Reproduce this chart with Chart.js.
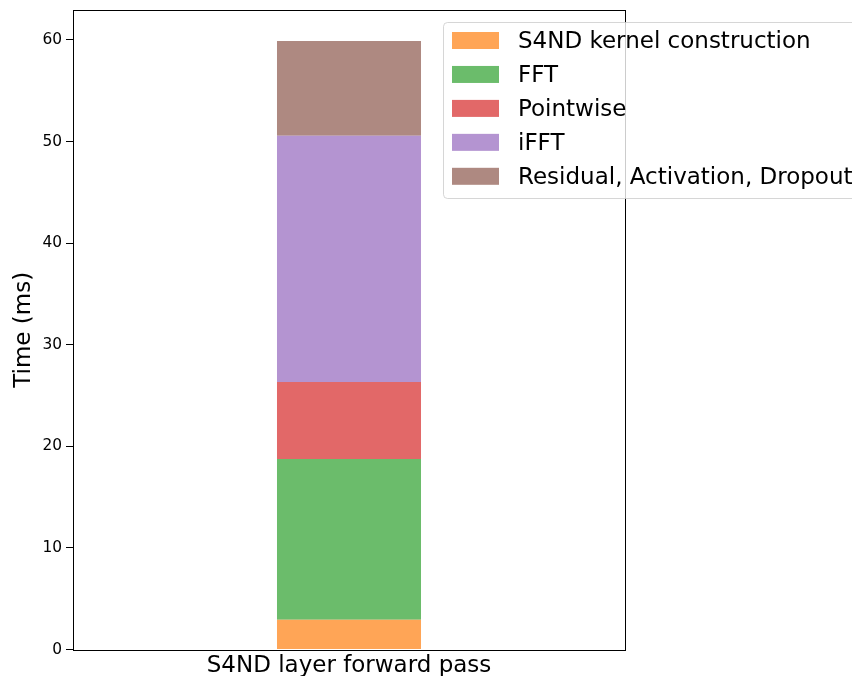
<!DOCTYPE html>
<html>
<head>
<meta charset="utf-8">
<script src="https://cdn.jsdelivr.net/npm/chart.js@4"></script>
<style>
  html, body { margin: 0; padding: 0; background: #fff; }
  #wrap { width: 852px; height: 676px; overflow: hidden; }
</style>
</head>
<body>
<div id="wrap"><canvas id="c" width="852" height="676"></canvas></div>
<script>
// Forward-pass timing breakdown of one S4ND layer (milliseconds)
const categories = ['S4ND layer forward pass'];
const seriesNames = ['S4ND kernel construction', 'FFT', 'Pointwise', 'iFFT', 'Residual, Activation, Dropout'];
const kernelMs = [2.93];
const fftMs = [15.82];
const pointwiseMs = [7.58];
const ifftMs = [24.24];
const residualMs = [9.33];
const yTickValues = [0, 10, 20, 30, 40, 50, 60];

const seriesValues = [kernelMs, fftMs, pointwiseMs, ifftMs, residualMs];
const seriesColors = ['#ffa556', '#6bbc6b', '#e26868', '#b494d1', '#ae8981'];

const FONT = '"DejaVu Sans", sans-serif';
const LABEL_SIZE = 23;
const TICK_SIZE = 15.4;

// Axes frame (all four spines) and a semi-transparent legend box on top
const framePlugin = {
  id: 'frameAndLegend',
  afterDraw(chart) {
    const ctx = chart.ctx;
    const a = chart.chartArea;
    ctx.save();
    ctx.strokeStyle = '#000';
    ctx.lineWidth = 1;
    ctx.strokeRect(Math.round(a.left) + 0.5, Math.round(a.top) + 0.5,
                   Math.round(a.right - a.left), Math.round(a.bottom - a.top));

    // legend
    const lx = 443.5, ly = 22.5, lw = 520, lh = 176, r = 4;
    ctx.beginPath();
    ctx.moveTo(lx + r, ly);
    ctx.lineTo(lx + lw - r, ly);
    ctx.arcTo(lx + lw, ly, lx + lw, ly + r, r);
    ctx.lineTo(lx + lw, ly + lh - r);
    ctx.arcTo(lx + lw, ly + lh, lx + lw - r, ly + lh, r);
    ctx.lineTo(lx + r, ly + lh);
    ctx.arcTo(lx, ly + lh, lx, ly + lh - r, r);
    ctx.lineTo(lx, ly + r);
    ctx.arcTo(lx, ly, lx + r, ly, r);
    ctx.closePath();
    ctx.fillStyle = 'rgba(255,255,255,0.8)';
    ctx.fill();
    ctx.strokeStyle = 'rgba(204,204,204,0.8)';
    ctx.lineWidth = 1;
    ctx.stroke();

    ctx.font = LABEL_SIZE + 'px ' + FONT;
    ctx.textBaseline = 'middle';
    ctx.textAlign = 'left';
    chart.data.datasets.forEach((ds, i) => {
      const cy = 40.5 + i * 33.95;
      ctx.fillStyle = ds.backgroundColor;
      ctx.fillRect(452, cy - 8.5, 47, 17);
      ctx.fillStyle = '#000';
      ctx.fillText(ds.label, 518, cy + 2);
    });
    ctx.restore();
  }
};

new Chart(document.getElementById('c'), {
  type: 'bar',
  data: {
    labels: categories,
    datasets: seriesNames.map((name, i) => ({
      label: name,
      data: seriesValues[i],
      backgroundColor: seriesColors[i],
      borderWidth: 0,
      barPercentage: 0.2609,
      categoryPercentage: 1.0
    }))
  },
  options: {
    responsive: false,
    animation: false,
    devicePixelRatio: 1,
    layout: { padding: { left: 0, top: 10, right: 227, bottom: 0 } },
    plugins: { legend: { display: false }, tooltip: { enabled: false } },
    scales: {
      x: {
        stacked: true,
        grid: { display: false, drawTicks: false },
        border: { display: false },
        ticks: { color: '#000', font: { family: FONT, size: LABEL_SIZE }, padding: 3 },
        afterFit(scale) {
          scale.height = 26.4;
          scale.paddingLeft = 0;
          scale.paddingRight = 0;
        }
      },
      y: {
        stacked: true,
        min: 0,
        max: 62.95,
        afterBuildTicks(scale) { scale.ticks = yTickValues.map(v => ({ value: v })); },
        grid: { drawOnChartArea: false, drawTicks: true, tickLength: 7, tickColor: '#000' },
        border: { display: false },
        ticks: { color: '#000', font: { family: FONT, size: TICK_SIZE }, padding: 4 },
        title: {
          display: true,
          text: 'Time (ms)',
          color: '#000',
          font: { family: FONT, size: LABEL_SIZE },
          padding: { top: 10, bottom: 0 }
        },
        afterFit(scale) {
          scale.width = 73;
          scale.paddingTop = 0;
          scale.paddingBottom = 0;
        }
      }
    }
  },
  plugins: [framePlugin]
});
</script>
</body>
</html>
